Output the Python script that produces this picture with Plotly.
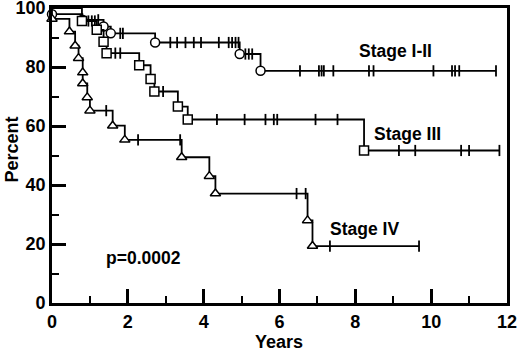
import plotly.graph_objects as go

# ---- data ----
stage12_event_t = [0.0, 0.80, 1.36, 1.55, 2.72, 4.95, 5.50]
stage12_event_s = [97.9, 96.0, 93.7, 91.4, 88.3, 84.4, 78.7]
stage12_censor = [1.22, 1.80, 1.87, 3.12, 3.30, 3.52, 3.74, 3.93, 4.40, 4.66, 4.75,
                  4.84, 4.92, 5.10, 5.19, 5.28, 6.54, 7.04, 7.11, 7.17, 7.42, 8.36,
                  8.48, 10.06, 10.55, 10.63, 10.74, 11.71]

stage3_event_t = [0.79, 1.18, 1.36, 1.44, 2.30, 2.60, 2.70, 3.32, 3.58, 8.23]
stage3_event_s = [95.6, 92.6, 88.6, 84.7, 80.6, 75.9, 71.7, 66.6, 62.2, 51.7]
stage3_censor = [0.96, 1.05, 1.13, 1.67, 1.80, 2.93, 4.35, 5.08, 5.63, 5.85, 5.94,
                 6.95, 7.53, 9.15, 9.58, 10.79, 11.00, 11.80]

stage4_event_t = [0.0, 0.46, 0.61, 0.70, 0.81, 0.81, 0.93, 1.00, 1.60, 1.92, 3.42,
                  4.15, 4.31, 6.74, 6.87]
stage4_event_s = [96.3, 92.0, 87.2, 83.0, 78.1, 74.4, 69.7, 65.2, 60.1, 55.3, 49.4,
                  43.0, 37.1, 28.0, 19.3]
stage4_censor = [1.43, 2.27, 3.38, 6.45, 6.69, 7.33, 9.68]

x_ticks = [0, 2, 4, 6, 8, 10, 12]
y_ticks = [0, 20, 40, 60, 80, 100]

labels = [
    ("Stage I-II", 9.07, 85.5),
    ("Stage III", 9.37, 57.4),
    ("Stage IV", 8.23, 25.2),
    ("p=0.0002", 2.41, 15.1),
]

FONT = "Liberation Sans, Arial, sans-serif"


def surv_at(t, ev_t, ev_s):
    s = 100.0
    for et, es in zip(ev_t, ev_s):
        if et <= t:
            s = es
    return s


fig = go.Figure()
series = [
    (stage12_event_t, stage12_event_s, stage12_censor, "circle"),
    (stage3_event_t, stage3_event_s, stage3_censor, "square"),
    (stage4_event_t, stage4_event_s, stage4_censor, "triangle-up"),
]
for ev_t, ev_s, cens, sym in series:
    end_t = max(cens + ev_t)
    xs = [0.0] + list(ev_t) + [end_t]
    ys = [100.0] + list(ev_s) + [ev_s[-1]]
    fig.add_trace(go.Scatter(x=xs, y=ys, mode="lines", line=dict(shape="hv", color="black", width=1.8),
                             hoverinfo="skip", showlegend=False, cliponaxis=False))
    fig.add_trace(go.Scatter(x=cens, y=[surv_at(c, ev_t, ev_s) for c in cens], mode="markers",
                             marker=dict(symbol="line-ns", size=8, color="black",
                                         line=dict(color="black", width=1.8)),
                             showlegend=False, cliponaxis=False))
    fig.add_trace(go.Scatter(x=ev_t, y=ev_s, mode="markers",
                             marker=dict(symbol=sym, size=9, color="white",
                                         line=dict(color="black", width=1.5)),
                             showlegend=False, cliponaxis=False))

for txt, x, y in labels:
    fig.add_annotation(x=x, y=y, text="<b>%s</b>" % txt, showarrow=False,
                       font=dict(family=FONT, size=17.5, color="black"))

# axis titles as annotations (so the plot area keeps the reference position)
fig.add_annotation(xref="paper", yref="paper", x=-0.088, y=0.52, text="<b>Percent</b>",
                   textangle=-90, showarrow=False, xanchor="center", yanchor="middle",
                   font=dict(family=FONT, size=18, color="black"))
fig.add_annotation(xref="paper", yref="paper", x=0.499, y=-0.132, text="<b>Years</b>",
                   showarrow=False, xanchor="center", yanchor="middle",
                   font=dict(family=FONT, size=18, color="black"))

axis_common = dict(showgrid=False, zeroline=False, showline=True, linecolor="black",
                   linewidth=2.8, mirror=True, ticks="inside", ticklen=14, tickwidth=2.5,
                   tickcolor="black", automargin=False, ticklabeloverflow="allow",
                   tickfont=dict(family=FONT, size=18, color="black"))

fig.update_xaxes(range=[0, 12], tickvals=x_ticks, ticktext=["<b>%d</b>" % v for v in x_ticks],
                 minor=dict(ticks="inside", ticklen=7, tickwidth=2, dtick=1, tick0=0, tickcolor="black"),
                 **axis_common)
fig.update_yaxes(range=[0, 100], tickvals=y_ticks, ticktext=["<b>%d</b>" % v for v in y_ticks],
                 minor=dict(ticks="inside", ticklen=7, tickwidth=2, dtick=10, tick0=0, tickcolor="black"),
                 **axis_common)

fig.update_layout(width=520, height=351, margin=dict(l=52, r=13, t=8, b=48),
                  plot_bgcolor="white", paper_bgcolor="white")

fig.write_html("out.html", config={"displayModeBar": False},
               post_script="document.body.style.margin='0';")
